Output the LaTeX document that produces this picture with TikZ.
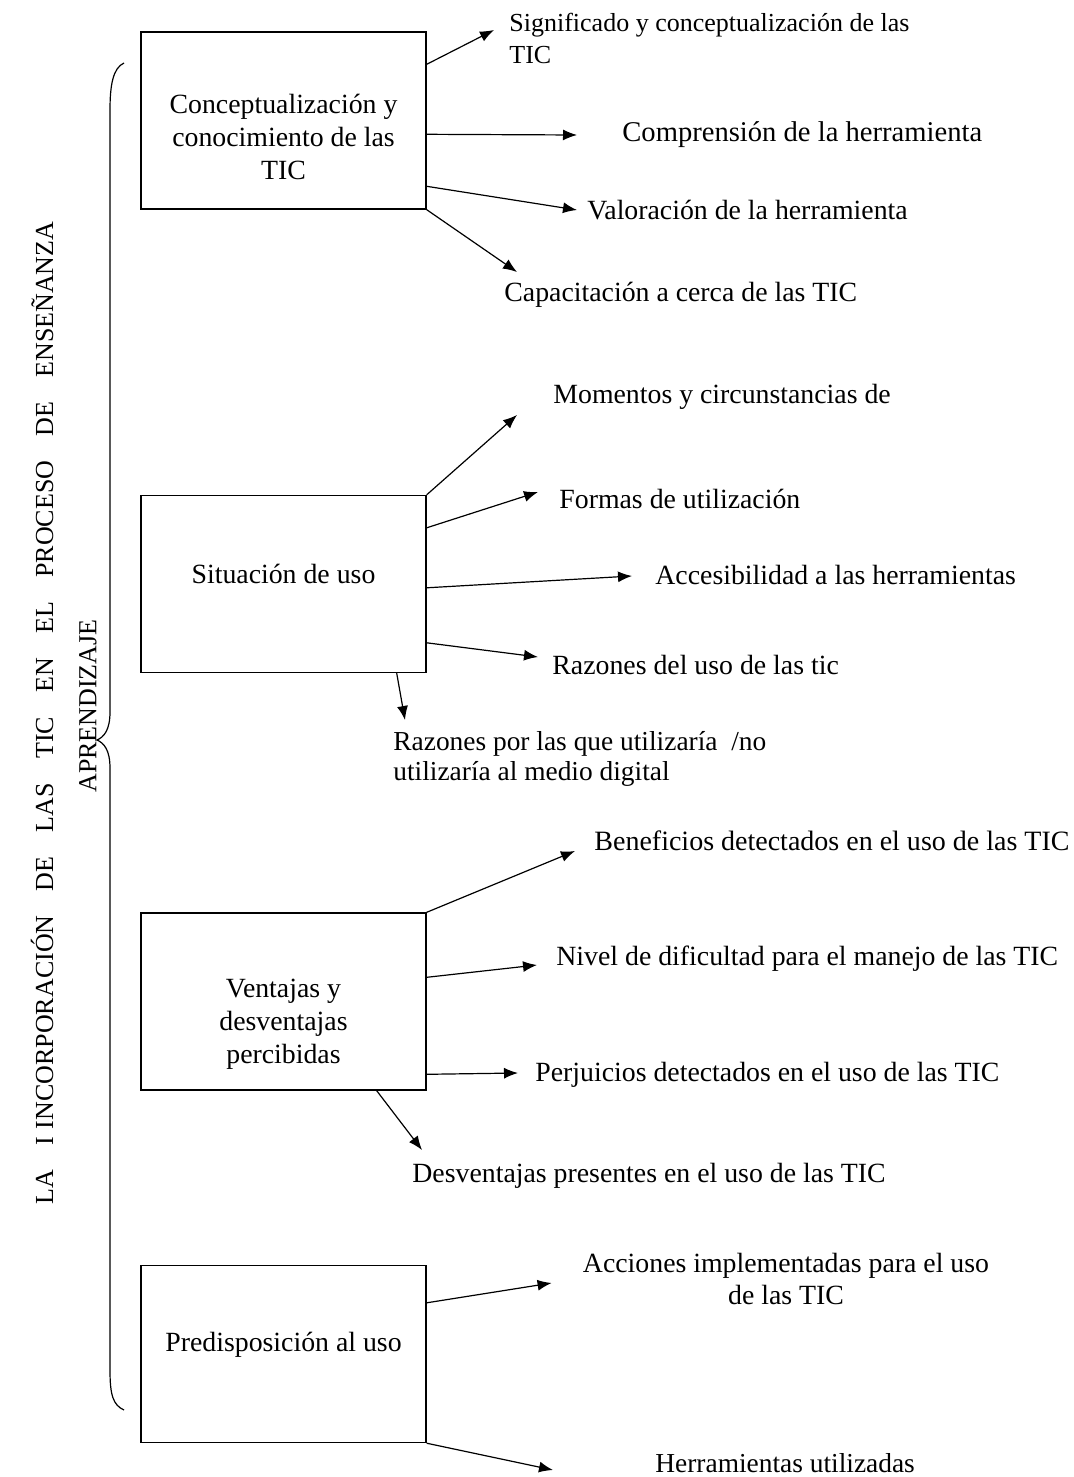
\documentclass[tikz,border=0pt]{standalone}
\usepackage{fontspec}
\setmainfont{Liberation Serif}
\usetikzlibrary{arrows.meta}
\tikzset{
  caja/.style={draw, line width=0.7pt, minimum width=142.5pt, minimum height=88.5pt, inner sep=0pt},
  textocaja/.style={inner sep=0pt, align=center, font=\fontsize{13.9}{16.5}\selectfont},
  etiqueta/.style={anchor=west, inner sep=0pt, align=left, font=\fontsize{13.9}{16}\selectfont},
  titulo/.style={rotate=90, inner sep=0pt, font=\fontsize{13}{16}\selectfont},
  flecha/.style={-{Latex[length=7pt,width=5.5pt]}, line width=0.6pt},
}
\begin{document}
\begin{tikzpicture}[x=0.5pt,y=-0.5pt]
  \useasboundingbox (0,0) rectangle (1074,1477);
  %Title
  \node[titulo] (tit1) at (42,713)
    {\makebox[491.5pt][s]{LA I\hspace{0.3em}INCORPORACIÓN DE LAS TIC EN EL PROCESO DE ENSEÑANZA}};
  \node[titulo] (tit2) at (88,706) {APRENDIZAJE};
  %Brace
  \draw[line width=0.6pt] (124,63) .. controls (113,68) and (110,85) .. (110,110) -- (110,712)
    .. controls (110,730) and (104,737) .. (97,740)
    .. controls (104,743) and (110,750) .. (110,768) -- (110,1370)
    .. controls (110,1395) and (113,1405) .. (124,1410);

  %Conceptualizacion
  \node[caja] (c1) at (283.5,120.5) {};
  \node[textocaja] (t1) at (283.5,137) {Conceptualización y\\conocimiento de las\\TIC};
  \node[etiqueta, font=\fontsize{13}{16}\selectfont] (l11) at (509,38) {Significado y conceptualización de las\\TIC};
  \node[etiqueta, font=\fontsize{14.3}{16}\selectfont] (l12) at (622,135) {Comprensión de la herramienta};
  \node[etiqueta] (l13) at (587,210) {Valoración de la herramienta};
  \node[etiqueta] (l14) at (504,295) {Capacitación a cerca de las TIC};
  \draw[flecha] ([shift={(0,33)}]c1.north east) -- ([shift={(-15,-8)}]l11.west);
  \draw[flecha] ([shift={(0,103)}]c1.north east) -- ([shift={(-45,0)}]l12.west);
  \draw[flecha] ([shift={(0,155)}]c1.north east) -- ([shift={(-10,0)}]l13.west);
  \draw[flecha] (c1.south east) -- ([shift={(13,-23)}]l14.west);

  %Situacion de uso
  \node[caja] (c2) at (283.5,584) {};
  \node[textocaja] (t2) at (283.5,574) {Situación de uso};
  \node[etiqueta] (l21) at (553,397) {Momentos y circunstancias de};
  \node[etiqueta] (l22) at (559,499) {Formas de utilización};
  \node[etiqueta] (l23) at (655,575) {Accesibilidad a las herramientas};
  \node[etiqueta] (l24) at (552,665) {Razones del uso de las tic};
  \node[etiqueta, font=\fontsize{13.7}{15}\selectfont] (l25) at (393,759) {Razones por las que utilizaría \ /no\\utilizaría al medio digital};
  \draw[flecha] (c2.north east) -- ([shift={(-36,18)}]l21.west);
  \draw[flecha] ([shift={(0,33)}]c2.north east) -- ([shift={(-21,-7)}]l22.west);
  \draw[flecha] ([shift={(0,93)}]c2.north east) -- ([shift={(-23,1)}]l23.west);
  \draw[flecha] ([shift={(0,148)}]c2.north east) -- ([shift={(-14,-8)}]l24.west);
  \draw[flecha] ([shift={(-30,0)}]c2.south east) -- ([shift={(12,-39)}]l25.west);

  %Ventajas y desventajas
  \node[caja] (c3) at (283.5,1001.5) {};
  \node[textocaja] (t3) at (283.5,1024) {Ventajas y\\desventajas\\percibidas};
  \node[etiqueta, font=\fontsize{14}{16}\selectfont] (l31) at (594,841) {Beneficios detectados en el uso de las TIC};
  \node[etiqueta] (l32) at (556,959) {Nivel de dificultad para el manejo de las TIC};
  \node[etiqueta] (l33) at (535,1075) {Perjuicios detectados en el uso de las TIC};
  \node[etiqueta] (l34) at (412,1176) {Desventajas presentes en el uso de las TIC};
  \draw[flecha] (c3.north east) -- ([shift={(-19,10)}]l31.west);
  \draw[flecha] ([shift={(0,65)}]c3.north east) -- ([shift={(-19,6)}]l32.west);
  \draw[flecha] ([shift={(0,162)}]c3.north east) -- ([shift={(-17,-2)}]l33.west);
  \draw[flecha] ([shift={(-50,0)}]c3.south east) -- ([shift={(10,-26)}]l34.west);

  %Predisposicion
  \node[caja] (c4) at (283.5,1354) {};
  \node[textocaja] (t4) at (283.5,1345) {Predisposición al uso};
  \node[etiqueta, anchor=center, align=center] (l41) at (786,1279) {Acciones implementadas para el uso\\de las TIC};
  \node[etiqueta, font=\fontsize{13.7}{16}\selectfont] (l42) at (655,1463) {Herramientas utilizadas};
  \draw[flecha] ([shift={(0,38)}]c4.north east) -- ([shift={(-31,4)}]l41.west);
  \draw[flecha] (c4.south east) -- ([shift={(-102,7)}]l42.west);
\end{tikzpicture}
\end{document}
